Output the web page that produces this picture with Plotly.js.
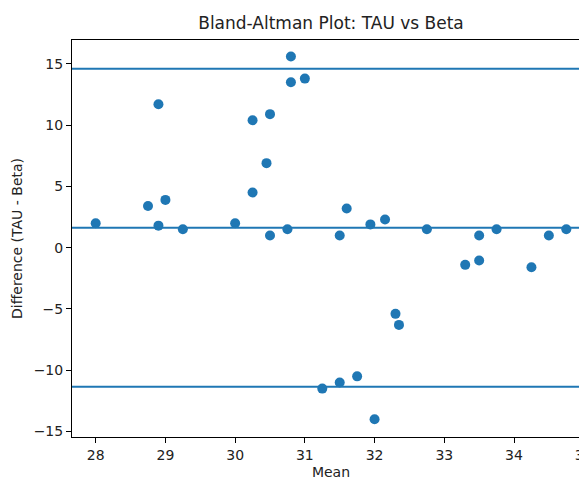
<!DOCTYPE html>
<html>
<head>
<meta charset="utf-8">
<script src="https://cdn.plot.ly/plotly-3.0.1.min.js"></script>
<style>
html,body{margin:0;padding:0;overflow:hidden;background:#fff;}
#chart{width:640px;height:480px;}
</style>
</head>
<body>
<div id="chart"></div>
<script>
const meanValues = [28, 28.75, 28.9, 28.9, 29, 29.25, 30, 30.25, 30.25, 30.45, 30.5, 30.5, 30.75, 30.8, 30.8, 31,
  31.25, 31.5, 31.5, 31.6, 31.75, 31.94, 32, 32.15, 32.3, 32.35, 32.75, 33.3, 33.5, 33.5, 33.75, 34.25, 34.5, 34.75];
const diffValues = [2.0, 3.4, 11.7, 1.8, 3.9, 1.5, 2.0, 10.4, 4.5, 6.9, 10.9, 1.0, 1.5, 15.6, 13.5, 13.8,
  -11.5, 1.0, -11.0, 3.2, -10.5, 1.9, -14.0, 2.3, -5.4, -6.3, 1.5, -1.4, 1.0, -1.05, 1.5, -1.6, 1.0, 1.5];
const meanDiff = 1.62;
const upperLimit = 14.6;
const lowerLimit = -11.35;
const refLines = [upperLimit, meanDiff, lowerLimit];

const blue = '#1f77b4';
const font = 'DejaVu Sans, sans-serif';

const traces = [{
  type: 'scatter', mode: 'markers', x: meanValues, y: diffValues,
  marker: {color: blue, size: 10, line: {width: 0}},
  hoverinfo: 'skip', showlegend: false
}];

const shapes = refLines.map(v => ({
  type: 'line', xref: 'paper', x0: 0, x1: 1, yref: 'y', y0: v, y1: v,
  line: {color: blue, width: 2}
}));

const axisCommon = {
  showgrid: false, zeroline: false, showline: true, mirror: true,
  linecolor: '#000', linewidth: 1, ticks: 'outside', ticklen: 5, tickwidth: 1,
  tickcolor: '#000', tickfont: {family: font, size: 14, color: '#222'}
};

const layout = {
  width: 640, height: 480,
  margin: {l: 72, r: 50, t: 40, b: 43},
  paper_bgcolor: '#fff', plot_bgcolor: '#fff',
  title: {text: 'Bland-Altman Plot: TAU vs Beta', font: {family: font, size: 17, color: '#222'},
    x: 0.5, xref: 'paper', xanchor: 'center', y: 1, yref: 'paper', yanchor: 'bottom', pad: {b: 11}},
  xaxis: Object.assign({}, axisCommon, {
    range: [27.66, 35.09], tickvals: [28, 29, 30, 31, 32, 33, 34, 35],
    title: {text: 'Mean', font: {family: font, size: 14, color: '#222'}, standoff: 6}
  }),
  yaxis: Object.assign({}, axisCommon, {
    range: [-15.45, 16.95], tickvals: [-15, -10, -5, 0, 5, 10, 15],
    title: {text: 'Difference (TAU - Beta)', font: {family: font, size: 14, color: '#222'}, standoff: 7}
  }),
  shapes: shapes
};

Plotly.newPlot('chart', traces, layout, {displayModeBar: false, staticPlot: true});
</script>
</body>
</html>
